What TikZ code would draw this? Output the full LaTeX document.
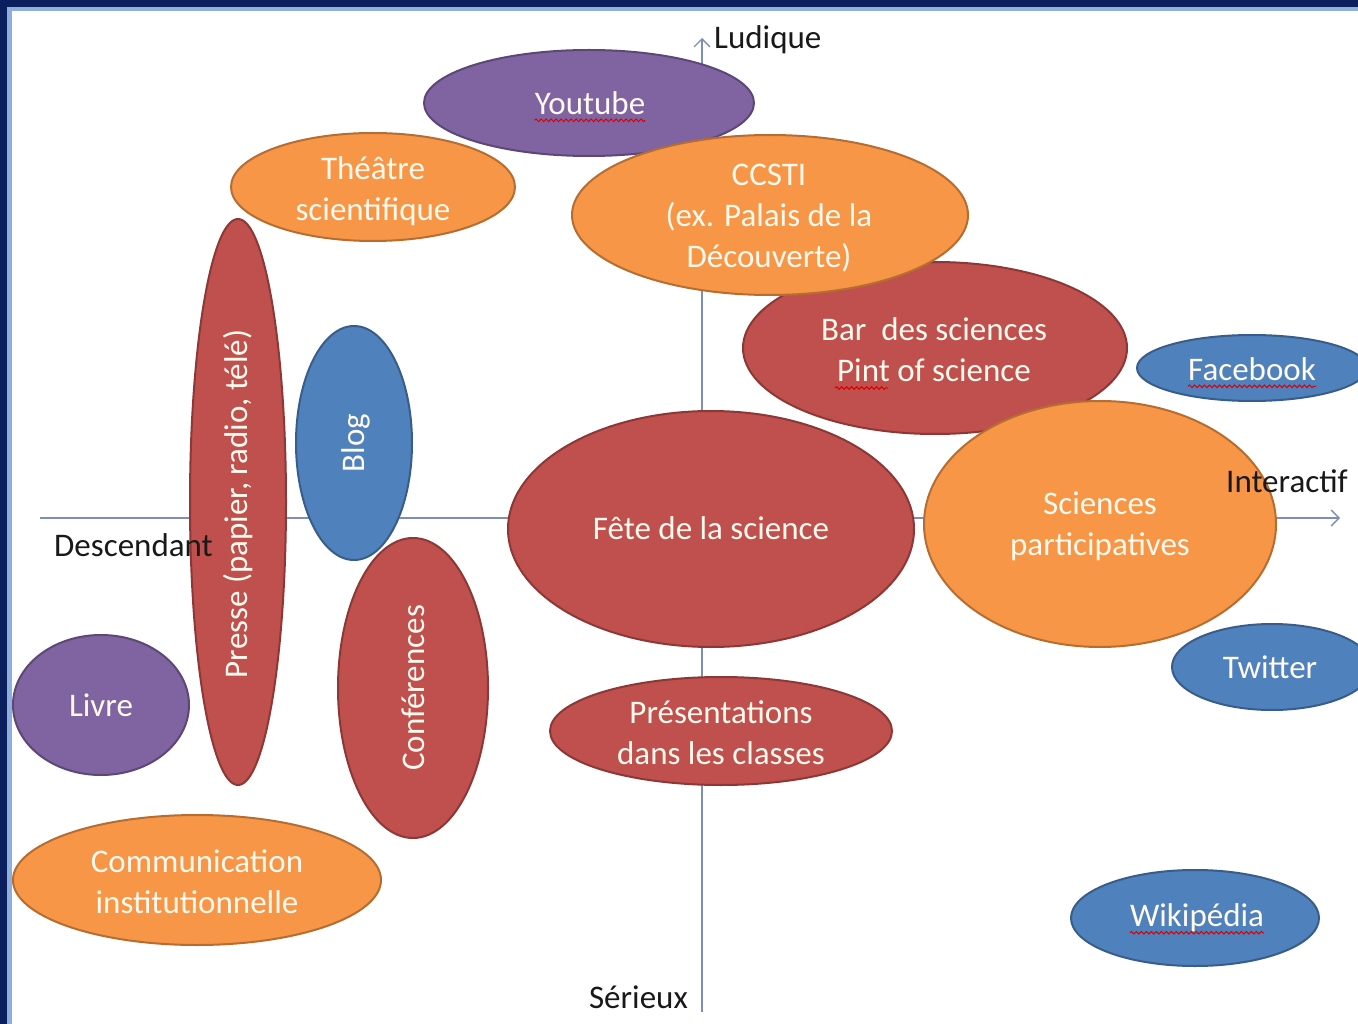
\documentclass[tikz,border=0pt]{standalone}
\usepackage{fontspec}
\setmainfont{Carlito}
\usetikzlibrary{arrows.meta,decorations.pathmorphing}
\definecolor{navy}{HTML}{0B1F5C}
\definecolor{framelight}{HTML}{8EAEDC}
\definecolor{axisblue}{HTML}{7C8FB5}
\definecolor{bred}{HTML}{C0504D}
\definecolor{bredline}{HTML}{8C3836}
\definecolor{borange}{HTML}{F79646}
\definecolor{borangeline}{HTML}{B66D31}
\definecolor{bblue}{HTML}{4F81BD}
\definecolor{bblueline}{HTML}{385D8A}
\definecolor{bpurple}{HTML}{8064A2}
\definecolor{bpurpleline}{HTML}{5C4776}
\definecolor{txtwhite}{HTML}{FFF9EE}

\tikzset{
  bubble/.style={line width=2pt},
  redbub/.style={bubble, fill=bred, draw=bredline},
  orangebub/.style={bubble, fill=borange, draw=borangeline},
  bluebub/.style={bubble, fill=bblue, draw=bblueline},
  purplebub/.style={bubble, fill=bpurple, draw=bpurpleline},
  txt/.style={text=txtwhite, align=center, inner sep=0pt,
    font=\fontsize{33}{41}\selectfont},
  axis/.style={draw=axisblue, line width=1.6pt,
    -{Straight Barb[length=8pt,width=16pt,line width=1.4pt]}},
  axislbl/.style={text=black!90, inner sep=0pt,
    font=\fontsize{33}{41}\selectfont},
  spell/.style={draw=red!85!black, line width=1pt, decorate,
    decoration={snake, amplitude=1.3pt, segment length=5pt}}
}

\begin{document}
\begin{tikzpicture}[x=1pt,y=-1pt]
                % frame
                \useasboundingbox (0,0) rectangle (1358,1024);
                \fill[navy] (0,0) rectangle (1358,1024);
                \fill[framelight] (7,7) rectangle (1358,1024);
                \fill[white] (12,11) rectangle (1358,1024);
                \clip (12,11) rectangle (1358,1024);

                % axes
                \coordinate (west) at (40,518);
                \coordinate (east) at (1340,518);
                \coordinate (south) at (702,1012);
                \coordinate (north) at (702,38);
                \draw[axis] (west) -- (east);
                \draw[axis] (south) -- (north);

                % bubbles, top
                \filldraw[purplebub] (589,103) ellipse [x radius=165pt, y radius=53pt];
                \filldraw[orangebub] (373,187) ellipse [x radius=142pt, y radius=54pt];
                \filldraw[redbub] (935,348) ellipse [x radius=192pt, y radius=86pt];
                \filldraw[orangebub] (770,215) ellipse [x radius=198pt, y radius=80pt];
                \filldraw[bluebub] (1252,368) ellipse [x radius=115pt, y radius=33pt];
                % bubbles, middle
                \filldraw[redbub] (711,529) ellipse [x radius=203pt, y radius=118pt];
                \filldraw[orangebub] (1100,524) ellipse [x radius=176pt, y radius=123pt];
                \filldraw[bluebub] (1272,667) ellipse [x radius=100pt, y radius=43pt];
                \filldraw[redbub] (238,502) ellipse [x radius=48pt, y radius=283pt];
                \filldraw[bluebub] (354,443) ellipse [x radius=58pt, y radius=117pt];
                \filldraw[redbub] (413,688) ellipse [x radius=75pt, y radius=150pt];
                % bubbles, bottom
                \filldraw[purplebub] (101,705) ellipse [x radius=88pt, y radius=70pt];
                \filldraw[redbub] (721,731) ellipse [x radius=171pt, y radius=54pt];
                \filldraw[orangebub] (197,880) ellipse [x radius=184pt, y radius=65pt];
                \filldraw[bluebub] (1195,918) ellipse [x radius=124pt, y radius=48pt];

                % texts
                \node[txt] (youtube) at (590,103) {Youtube};
                \node[txt] (theatre) at (373,191) {Théâtre\\scientifique};
                \node[txt] (ccsti) at (769,218) {CCSTI\\(ex. Palais de la\\Découverte)};
                \node[txt] (bar) at (934,350) {Bar~ des sciences\\Pint of science};
                \node[txt] (facebook) at (1252,369) {Facebook};
                \node[txt] (fete) at (711,528) {Fête de la science};
                \node[txt] (scpart) at (1100,526) {Sciences\\participatives};
                \node[txt] (twitter) at (1270,667) {Twitter};
                \node[txt, rotate=90] (presse) at (238,504) {Presse (papier, radio, télé)};
                \node[txt, rotate=90] (blog) at (356,443) {Blog};
                \node[txt, rotate=90] (conf) at (413,688) {Conférences};
                \node[txt] (livre) at (101,705) {Livre};
                \node[txt] (pres) at (721,733) {Présentations\\dans les classes};
                \node[txt] (comm) at (197,882) {Communication\\institutionnelle};
                \node[txt] (wiki) at (1197,918) {Wikipédia};

                % spell check marks
                \draw[spell] ([yshift=-6pt]youtube.base west) -- ([yshift=-6pt]youtube.base east);
                \draw[spell] ([yshift=-6pt]facebook.base west) -- ([yshift=-6pt]facebook.base east);
                \draw[spell] ([yshift=-6pt]wiki.base west) -- ([yshift=-6pt]wiki.base east);
                \draw[spell] ([xshift=-99pt,yshift=-38pt]bar.center) -- ([xshift=-46pt,yshift=-38pt]bar.center);

                % axis labels
                \node[axislbl, anchor=west] (ludique) at (714,40) {Ludique};
                \node[axislbl, anchor=west] (descendant) at (54,545) {Descendant};
                \node[axislbl, anchor=west] (interactif) at (1226,481) {Interactif};
                \node[axislbl, anchor=east] (serieux) at (688,997) {Sérieux};
\end{tikzpicture}
\end{document}
